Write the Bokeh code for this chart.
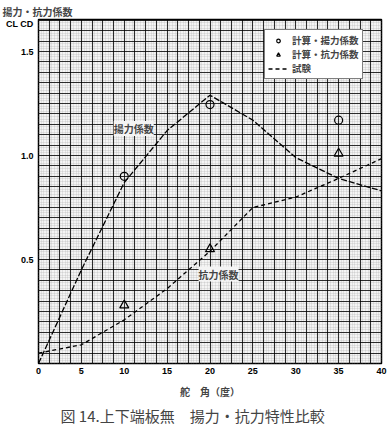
import numpy as np
from bokeh.plotting import figure
from bokeh.models import (Range1d, FixedTicker, Grid, Label, Legend, LegendItem, Title,
                          ColumnDataSource)
from bokeh.embed import file_html
from bokeh.resources import INLINE

# ---- data ----
test_angle = [0, 5, 10, 15, 20, 25, 30, 35, 40]
test_lift = [0.0, 0.45, 0.87, 1.12, 1.29, 1.17, 0.99, 0.89, 0.83]
test_drag = [0.05, 0.09, 0.21, 0.36, 0.54, 0.75, 0.80, 0.89, 0.985]

calc_angle = [10, 20, 35]
calc_lift = [0.90, 1.245, 1.17]
calc_drag = [0.28, 0.55, 1.01]

x_ticks = [0, 5, 10, 15, 20, 25, 30, 35, 40]
y_ticks = [0.5, 1.0, 1.5, 1.63]
y_tick_labels = {0.5: "0.5", 1.0: "1.0", 1.5: "1.5", 1.63: "CL CD"}

JP = "Noto Sans CJK JP"
BG = "#f4f4f4"

p = figure(frame_width=343, frame_height=344, output_backend="svg", toolbar_location=None,
           x_range=Range1d(0, 40), y_range=Range1d(0, 1.654),
           min_border_left=38, min_border_right=8, min_border_top=18,
           min_border_bottom=0)
p.background_fill_color = BG
p.border_fill_color = "white"
p.outline_line_color = "black"
p.outline_line_width = 1.5

# top-left axis title
top_title = Title(text="揚力・抗力係数", align="left", offset=-36, standoff=2,
                  text_font=JP, text_font_style="bold", text_font_size="10px")
p.add_layout(top_title, "above")

# graph-paper grid
p.xgrid.visible = False
p.ygrid.visible = False
minor_x = Grid(dimension=0, ticker=FixedTicker(ticks=list(np.arange(0, 40.01, 1.25 / 4))),
               grid_line_color="#a0a0a0", grid_line_width=1, grid_line_dash="1 1", grid_line_alpha=0.45)
minor_y = Grid(dimension=1, ticker=FixedTicker(ticks=list(np.arange(0, 1.66, 0.05 / 4))),
               grid_line_color="#a0a0a0", grid_line_width=1, grid_line_dash="1 1", grid_line_alpha=0.45)
major_x = Grid(dimension=0, ticker=FixedTicker(ticks=list(np.arange(0, 40.01, 1.25))),
               grid_line_color="black", grid_line_width=1.1, grid_line_alpha=0.8)
major_y = Grid(dimension=1, ticker=FixedTicker(ticks=list(np.arange(0, 1.66, 0.05))),
               grid_line_color="black", grid_line_width=1.1, grid_line_alpha=0.8)
for g in (minor_x, minor_y, major_x, major_y):
    p.add_layout(g)

# axes
p.xaxis.ticker = FixedTicker(ticks=x_ticks)
p.yaxis.ticker = FixedTicker(ticks=y_ticks)
p.yaxis.major_label_overrides = y_tick_labels
for ax in (p.xaxis[0], p.yaxis[0]):
    ax.axis_line_color = None
    ax.major_tick_out = 0
    ax.major_tick_in = 0
    ax.minor_tick_out = 0
    ax.minor_tick_in = 0
    ax.major_label_text_font = "Liberation Sans"
    ax.major_label_text_font_style = "bold"
    ax.major_label_text_font_size = "9px"
    ax.major_label_text_color = "black"
p.yaxis.major_label_standoff = 5
p.xaxis.major_label_standoff = 4
p.xaxis.axis_label = "舵　角（度）"
p.xaxis.axis_label_text_font = JP
p.xaxis.axis_label_text_font_style = "bold"
p.xaxis.axis_label_text_font_size = "10px"
p.xaxis.axis_label_standoff = 7

# caption
caption = Title(text="図 14.上下端板無　揚力・抗力特性比較", align="left", offset=22, standoff=2,
                text_font=JP, text_font_style="normal", text_font_size="15px")
p.add_layout(caption, "below")

# test curves
src = ColumnDataSource(dict(a=test_angle, cl=test_lift, cd=test_drag))
r_lift = p.line("a", "cl", source=src, line_color="black", line_width=1.3, line_dash="6 2")
r_drag = p.line("a", "cd", source=src, line_color="black", line_width=1.3, line_dash="4 3")

# calculated points
csrc = ColumnDataSource(dict(a=calc_angle, cl=calc_lift, cd=calc_drag))
r_circ = p.scatter("a", "cl", source=csrc, marker="circle", size=8, fill_color="white",
                   fill_alpha=0, line_color="black", line_width=1.2)
r_tri = p.scatter("a", "cd", source=csrc, marker="triangle", size=9, fill_color="white",
                  fill_alpha=0, line_color="black", line_width=1.2)

# curve labels
p.add_layout(Label(x=11.1, y=1.13, text="揚力係数", text_font=JP, text_font_style="bold",
                   text_font_size="10px", text_align="center", text_baseline="middle",
                   background_fill_color=BG))
p.add_layout(Label(x=21.0, y=0.43, text="抗力係数", text_font=JP, text_font_style="bold",
                   text_font_size="10px", text_align="center", text_baseline="middle",
                   background_fill_color=BG))

# legend
legend = Legend(items=[
    LegendItem(label="計算・揚力係数", renderers=[r_circ]),
    LegendItem(label="計算・抗力係数", renderers=[r_tri]),
    LegendItem(label="試験", renderers=[r_drag]),
], location=(226, 284))
legend.label_text_font = JP
legend.label_text_font_style = "bold"
legend.label_text_font_size = "9.5px"
legend.label_height = 9
legend.glyph_height = 9
legend.glyph_width = 20
legend.label_standoff = 4
legend.spacing = 0
legend.padding = 3
legend.margin = 0
legend.border_line_color = "black"
legend.border_line_width = 1
legend.background_fill_color = "white"
legend.background_fill_alpha = 1
p.add_layout(legend)

open("out.html", "w").write(file_html(p, INLINE))
